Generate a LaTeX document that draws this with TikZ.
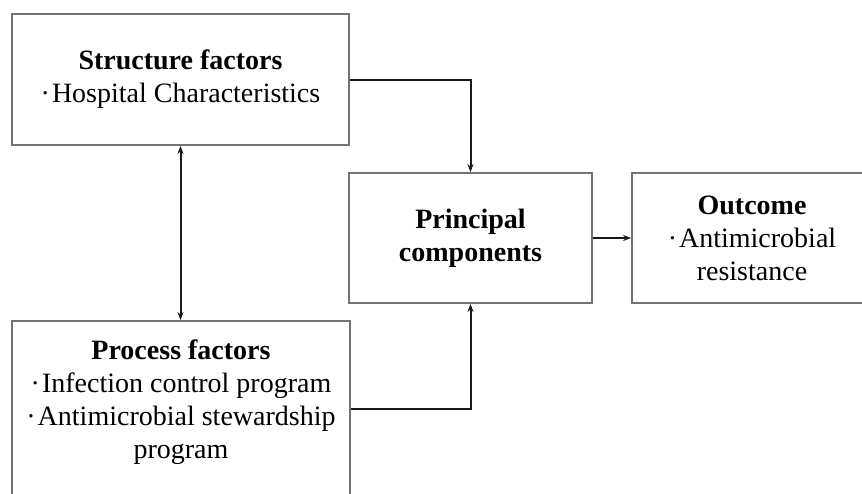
\documentclass[tikz,border=0pt]{standalone}
\usepackage{fontspec}
\setmainfont{Liberation Serif}
\usetikzlibrary{arrows.meta}
\tikzset{box/.style={draw=black!55,line width=1.8pt,align=center,inner sep=0pt,
    font=\fontsize{28}{33}\selectfont},
  txt/.style={align=center,inner sep=0pt,font=\fontsize{28}{33}\selectfont},
  arr/.style={draw=black!90,line width=2pt,-{Stealth[length=8pt,width=6pt]}},
  dblarr/.style={arr,{Stealth[length=8pt,width=6pt]}-{Stealth[length=8pt,width=6pt]}}}
\newcommand{\itm}{·\kern2pt}

\begin{document}
\begin{tikzpicture}[x=1pt,y=-1pt]
\useasboundingbox (0,0) rectangle (862,493);
\clip (0,0) rectangle (862,493);
      \node[box,minimum width=337pt,minimum height=131pt] (struct) at (180.5,79.5)
        {\textbf{Structure factors}\\\itm Hospital Characteristics};
      \node[box,minimum width=338pt,minimum height=176pt] (proc) at (181,409) {};
      \node[txt,anchor=north] (proctxt) at (181,339.5)
        {\textbf{Process factors}\\\itm Infection control program\\
         \itm Antimicrobial stewardship\\program};
      \node[box,minimum width=243pt,minimum height=130pt] (princ) at (470.5,238)
        {\textbf{Principal}\\\textbf{components}};
      \node[box,minimum width=240pt,minimum height=130pt] (outc) at (752,238)
        {\textbf{Outcome}\\\itm Antimicrobial\\resistance};

\foreach \a/\b in {struct/north,proc/south}
  \draw[arr] (\a.east) -| (princ.\b);
\draw[arr] (princ.east) -- (outc.west);
\draw[dblarr] (struct.south) -- (struct.south |- proc.north);
    \end{tikzpicture}
\end{document}
